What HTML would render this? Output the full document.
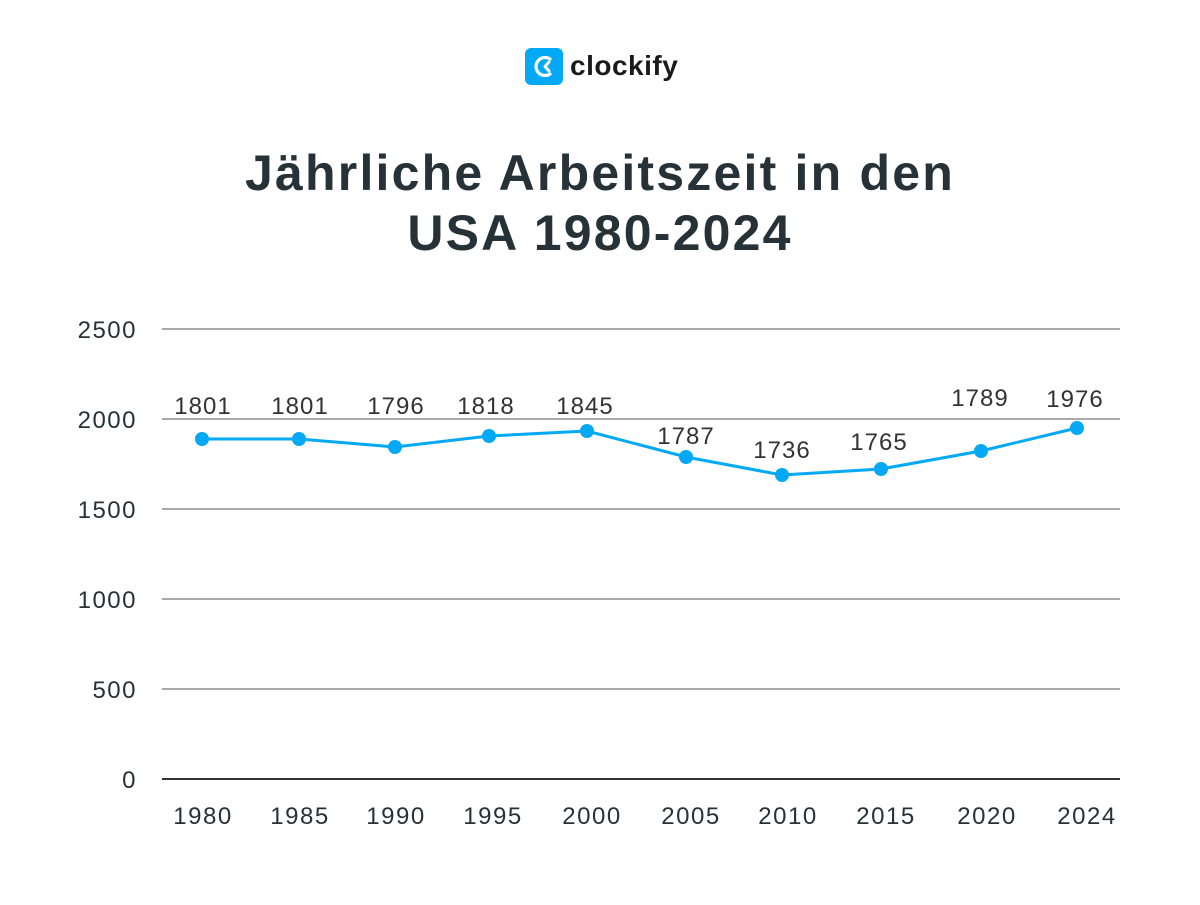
<!DOCTYPE html>
<html><head><meta charset="utf-8"><style>
body{margin:0;width:1200px;height:900px;background:#fff;overflow:hidden}
</style></head><body>
<svg width="1200" height="900" xmlns="http://www.w3.org/2000/svg" font-family="Liberation Sans, sans-serif">
<rect x="525" y="48" width="38" height="37" rx="6" fill="#03a9f4"/>
<path d="M550 59 A9 9 0 1 0 550 74" stroke="#fff" stroke-width="3.2" fill="none" stroke-linecap="round"/>
<path d="M549 62 L545 66.5 L549 71" stroke="#fff" stroke-width="3" fill="none" stroke-linecap="round" stroke-linejoin="round"/>
<text x="570" y="75" font-size="28" font-weight="bold" fill="#1a1a1a" letter-spacing="0.5">clockify</text>
<g font-size="50" font-weight="bold" fill="#263238" text-anchor="middle" letter-spacing="2.2">
<text x="600" y="190">Jährliche Arbeitszeit in den</text>
<text x="600" y="250">USA 1980-2024</text>
</g>
<g stroke="#555" stroke-width="1">
<line x1="162" y1="329" x2="1120" y2="329"/><line x1="162" y1="419" x2="1120" y2="419"/>
<line x1="162" y1="509" x2="1120" y2="509"/><line x1="162" y1="599" x2="1120" y2="599"/>
<line x1="162" y1="689" x2="1120" y2="689"/>
</g>
<line x1="162" y1="779" x2="1120" y2="779" stroke="#333" stroke-width="2"/>
<g font-size="24" fill="#263238" text-anchor="end" letter-spacing="1.5">
<text x="137" y="338">2500</text><text x="137" y="428">2000</text><text x="137" y="518">1500</text>
<text x="137" y="608">1000</text><text x="137" y="698">500</text><text x="137" y="788">0</text>
</g>
<g font-size="24" fill="#263238" text-anchor="middle" letter-spacing="1.5">
<text x="203" y="824">1980</text><text x="300" y="824">1985</text><text x="396" y="824">1990</text>
<text x="493" y="824">1995</text><text x="592" y="824">2000</text><text x="691" y="824">2005</text>
<text x="788" y="824">2010</text><text x="886" y="824">2015</text><text x="987" y="824">2020</text><text x="1087" y="824">2024</text>
</g>
<polyline points="202,439 299,439 395,447 489,436 587,431 686,457 782,475 881,469 981,451 1077,428" fill="none" stroke="#03a9f4" stroke-width="3"/>
<g fill="#03a9f4">
<circle cx="202" cy="439" r="7"/><circle cx="299" cy="439" r="7"/><circle cx="395" cy="447" r="7"/>
<circle cx="489" cy="436" r="7"/><circle cx="587" cy="431" r="7"/><circle cx="686" cy="457" r="7"/>
<circle cx="782" cy="475" r="7"/><circle cx="881" cy="469" r="7"/><circle cx="981" cy="451" r="7"/><circle cx="1077" cy="428" r="7"/>
</g>
<g font-size="24" fill="#333" text-anchor="middle" letter-spacing="1">
<text x="203" y="414">1801</text><text x="300" y="414">1801</text><text x="396" y="414">1796</text>
<text x="486" y="414">1818</text><text x="585" y="414">1845</text><text x="686" y="444">1787</text>
<text x="782" y="458">1736</text><text x="879" y="450">1765</text><text x="980" y="406">1789</text><text x="1075" y="407">1976</text>
</g>
</svg>
</body></html>
